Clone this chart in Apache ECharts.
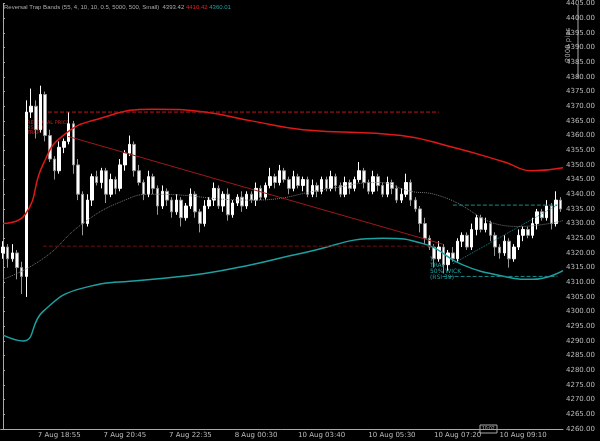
<!DOCTYPE html>
<html>
  <head>
    <meta charset="utf-8" />
    <title>Reversal Trap Bands</title>
    <script src="https://cdn.jsdelivr.net/npm/echarts@6/dist/echarts.min.js"></script>
    <style>html,body{margin:0;background:#000;}</style>
  </head>
  <body>
    <div id="main" style="width: 600px;height:441px;"></div>
    <script type="text/javascript">
      // closes per bar, open = previous close
      var closes = [
        4322, 4318, 4320, 4315, 4312, 4368, 4370, 4362, 4374, 4360,
        4352, 4348, 4356, 4358, 4364, 4350, 4340, 4330, 4338, 4346,
        4344, 4348, 4340, 4345, 4342, 4350, 4354, 4357, 4348, 4344,
        4340, 4346, 4342, 4336, 4341, 4338, 4334, 4338, 4332, 4336,
        4340, 4334, 4330, 4336, 4338, 4342, 4336, 4340, 4333, 4337,
        4339, 4336, 4340, 4338, 4342, 4339, 4343, 4346, 4344, 4348,
        4345, 4342, 4346, 4343, 4345, 4340, 4343, 4341, 4345, 4342,
        4346, 4343, 4340, 4344, 4342, 4345, 4348, 4344, 4341, 4346,
        4343, 4340, 4344, 4342, 4338, 4340, 4344, 4338, 4335, 4330,
        4325, 4322, 4318, 4322, 4316, 4320, 4318, 4324, 4326, 4322,
        4328, 4332, 4328, 4330, 4326, 4322, 4320, 4324, 4318, 4322,
        4326, 4328, 4326, 4330, 4334, 4332, 4336, 4330, 4338, 4335
      ];
      var firstOpen = 4320;
      var wickUp = [
        2, 1, 3, 1, 2, 4, 6, 2, 3, 1, 2, 1, 2, 1, 4, 1, 2, 1, 2, 1,
        2, 1, 1, 2, 1, 2, 1, 3, 1, 2, 1, 2, 1, 1, 2, 1, 1, 2, 1, 1,
        2, 1, 1, 2, 1, 2, 1, 1, 2, 1, 1, 2, 1, 1, 2, 1, 1, 3, 1, 2,
        1, 1, 2, 1, 1, 1, 2, 1, 1, 1, 2, 1, 1, 2, 1, 1, 3, 1, 1, 2,
        1, 1, 2, 1, 1, 2, 3, 1, 1, 1, 2, 1, 1, 2, 1, 1, 2, 1, 1, 1,
        2, 1, 1, 2, 1, 1, 1, 2, 1, 1, 2, 1, 1, 2, 1, 1, 2, 1, 3, 1
      ];
      var wickDn = [
        2, 3, 1, 4, 6, 7, 2, 3, 1, 2, 1, 3, 1, 2, 1, 3, 2, 4, 1, 2,
        1, 2, 3, 1, 2, 1, 2, 1, 2, 1, 2, 1, 2, 3, 1, 2, 2, 1, 3, 1,
        1, 2, 3, 1, 1, 2, 1, 2, 2, 1, 1, 2, 1, 1, 2, 1, 1, 1, 2, 1,
        1, 2, 1, 1, 2, 1, 1, 2, 1, 1, 1, 2, 1, 1, 2, 1, 1, 2, 1, 1,
        2, 1, 1, 2, 1, 1, 1, 2, 1, 3, 2, 1, 3, 1, 3, 2, 1, 1, 2, 1,
        1, 2, 1, 1, 2, 3, 2, 1, 3, 1, 1, 2, 1, 1, 2, 1, 1, 2, 1, 1
      ];
      var timeLabels = {
        12: "7 Aug 18:55", 26: "7 Aug 20:45", 40: "7 Aug 22:35", 54: "8 Aug 00:30",
        68: "10 Aug 03:40", 83: "10 Aug 05:30", 97: "10 Aug 07:20", 111: "10 Aug 09:10"
      };
      var upperBand = [[0,4330],[4.7,4333],[8.5,4350],[12.8,4360],[21,4366],[32,4369],[43,4368],[53,4365],[64,4362],[85,4360],[96,4356],[107,4351],[113,4348],[119.5,4349]];
      var lowerBand = [[0,4292],[4.3,4290],[8.5,4300],[17,4308],[32,4311],[43,4313],[53,4316],[64,4320],[81,4325],[90,4323],[98,4316],[107,4312],[113,4311],[119.5,4314]];
      var midBand = [[0,4311],[8.5,4318],[17,4330],[26,4338],[32,4340],[53,4338],[70,4342],[80,4344],[87,4341],[92,4340],[110,4329],[119.5,4331]];

      var cats = [], ohlc = [];
      var prev = firstOpen;
      for (var i = 0; i < closes.length; i++) {
        cats.push(timeLabels[i] || "");
        var o = prev, c = closes[i];
        ohlc.push([o, c, Math.min(o, c) - wickDn[i], Math.max(o, c) + wickUp[i]]);
        prev = c;
      }

      var myChart = echarts.init(document.getElementById("main"));
      var dash = function (coords, color, type) {
        return { type: "line", xAxisIndex: 1, data: coords, symbol: "none", silent: true,
          lineStyle: { color: color, width: 1, type: type || "dashed" } };
      };
      var option = {
        backgroundColor: "#000",
        animation: false,
        grid: { left: 0, right: 37, top: 0, bottom: 12 },
        xAxis: [
          {
            type: "category", data: cats,
            axisLine: { lineStyle: { color: "#aaa" } },
            axisTick: { interval: function (i, v) { return v !== ""; }, lineStyle: { color: "#aaa" }, length: 3 },
            axisLabel: { interval: 0, color: "#bbb", fontSize: 7, margin: 3, fontFamily: "DejaVu Sans" },
            splitLine: { show: false }
          },
          { type: "value", min: -0.5, max: 119.5, show: false }
        ],
        yAxis: {
          type: "value", position: "right", min: 4260, max: 4405, interval: 5,
          axisLine: { show: true, lineStyle: { color: "#aaa" } },
          axisTick: { show: true, length: 2, lineStyle: { color: "#aaa" } },
          axisLabel: { color: "#bbb", fontSize: 7, margin: 3, fontFamily: "DejaVu Sans",
            formatter: function (v) { return v.toFixed(2); } },
          splitLine: { show: false }
        },
        series: [
          { type: "line", xAxisIndex: 1, data: upperBand, smooth: true, symbol: "none",
            lineStyle: { color: "#e01818", width: 1.5 } },
          { type: "line", xAxisIndex: 1, data: lowerBand, smooth: true, symbol: "none",
            lineStyle: { color: "#1fa0a0", width: 1.5 } },
          { type: "line", xAxisIndex: 1, data: midBand, smooth: true, symbol: "none",
            lineStyle: { color: "#777", width: 1, type: "dotted" } },
          dash([[9.6, 4368], [93, 4368]], "#c01818"),
          dash([[8.5, 4322.3], [92, 4322.3]], "#6a1010"),
          dash([[13.9, 4359.7], [93.8, 4323]], "#a01818", "solid"),
          dash([[96, 4316.3], [118.3, 4336.3]], "#1a8a8a", "dotted"),
          dash([[96, 4336.3], [118.3, 4336.3]], "#1a8a8a"),
          dash([[93.8, 4312], [118.3, 4312]], "#1a8a8a"),
          {
            type: "candlestick", data: ohlc, barWidth: 3,
            itemStyle: { color: "#fff", color0: "#fff", borderColor: "#fff", borderColor0: "#999" }
          }
        ],
        graphic: [
          { type: "text", left: 4, top: 4, style: {
            text: "{a|Reversal Trap Bands (55, 4, 10, 10, 0.5, 5000, 500, Small)  4393.42} {b|4410.42} {c|4360.01}",
            fontSize: 6, fontFamily: "Liberation Sans",
            rich: { a: { fill: "#aaa", fontSize: 6 }, b: { fill: "#e02020", fontSize: 6 }, c: { fill: "#1fa0a0", fontSize: 6 } } } },
          { type: "text", left: 27, top: 120, style: { text: "REVERSAL PRICE\nRSI 70\nTRAP", fill: "#c02020", fontSize: 5, fontFamily: "DejaVu Sans" } },
          { type: "text", left: 430, top: 256, style: { text: "T\nTRAP\n50% WICK\n(RSI 39)", fill: "#1fa0a0", fontSize: 6, fontFamily: "DejaVu Sans" } },
          { type: "line", shape: { x1: 578, y1: 5, x2: 578, y2: 78 }, style: { stroke: "#aaa", lineWidth: 1 } },
          { type: "text", x: 565, y: 45, rotation: Math.PI / 2, style: { text: "2000 pips", fill: "#aaa", fontSize: 7, align: "center", fontFamily: "DejaVu Sans" } },
          { type: "rect", shape: { x: 480, y: 425, width: 17, height: 8 }, style: { fill: "#000", stroke: "#aaa" } },
          { type: "text", left: 482, top: 426, style: { text: "10:02", fill: "#bbb", fontSize: 5 } }
        ]
      };
      myChart.setOption(option);
    </script>
  </body>
</html>
